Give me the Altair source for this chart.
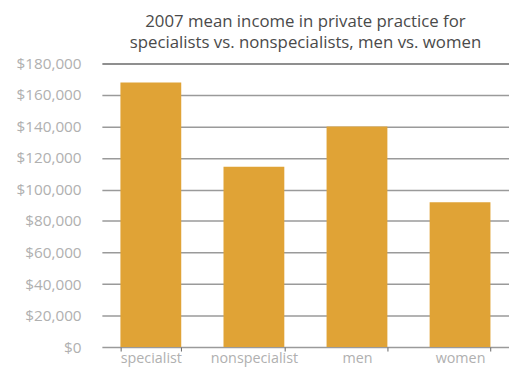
import altair as alt
import pandas as pd

categories = ["specialist", "nonspecialist", "men", "women"]
values = [168000, 114500, 140000, 92000]
title_lines = ["2007 mean income in private practice for",
               "specialists vs. nonspecialists, men vs. women"]

df = pd.DataFrame({"group": categories, "income": values})

chart = alt.Chart(df).mark_bar(color="#E0A336").encode(
    x=alt.X("group:N", sort=categories, title=None,
            scale=alt.Scale(paddingInner=0.41, paddingOuter=0.18),
            axis=alt.Axis(labelAngle=0, labelColor="#b0b0b0", labelFontSize=14.5,
                          labelFont="Open Sans", labelPadding=1,
                          domain=False, tickBand="extent", tickSize=4,
                          tickColor="#666666", ticks=True, grid=False)),
    y=alt.Y("income:Q", title=None,
            scale=alt.Scale(domain=[0, 180000], nice=False),
            axis=alt.Axis(values=list(range(0, 180001, 20000)), format="$,.0f",
                          labelColor="#b0b0b0", labelFontSize=15.5,
                          labelFont="Open Sans", labelPadding=21,
                          domain=False, ticks=False, grid=True,
                          gridColor={"condition": {"test": "datum.value === 180000",
                                                   "value": "#6a6a6a"},
                                     "value": "#9a9a9a"},
                          gridWidth=1.5)),
).properties(
    width=412, height=287,
    title=alt.TitleParams(title_lines, anchor="middle", fontSize=17,
                          font="Open Sans", fontWeight="normal",
                          color="#4a4a4a", lineHeight=21, offset=5),
    autosize=alt.AutoSizeParams(type="none"),
    padding={"left": 95, "top": 54, "right": 0, "bottom": 18},
).configure_view(stroke=None)

chart.save("out.html", embed_options={"renderer": "svg", "actions": False})
